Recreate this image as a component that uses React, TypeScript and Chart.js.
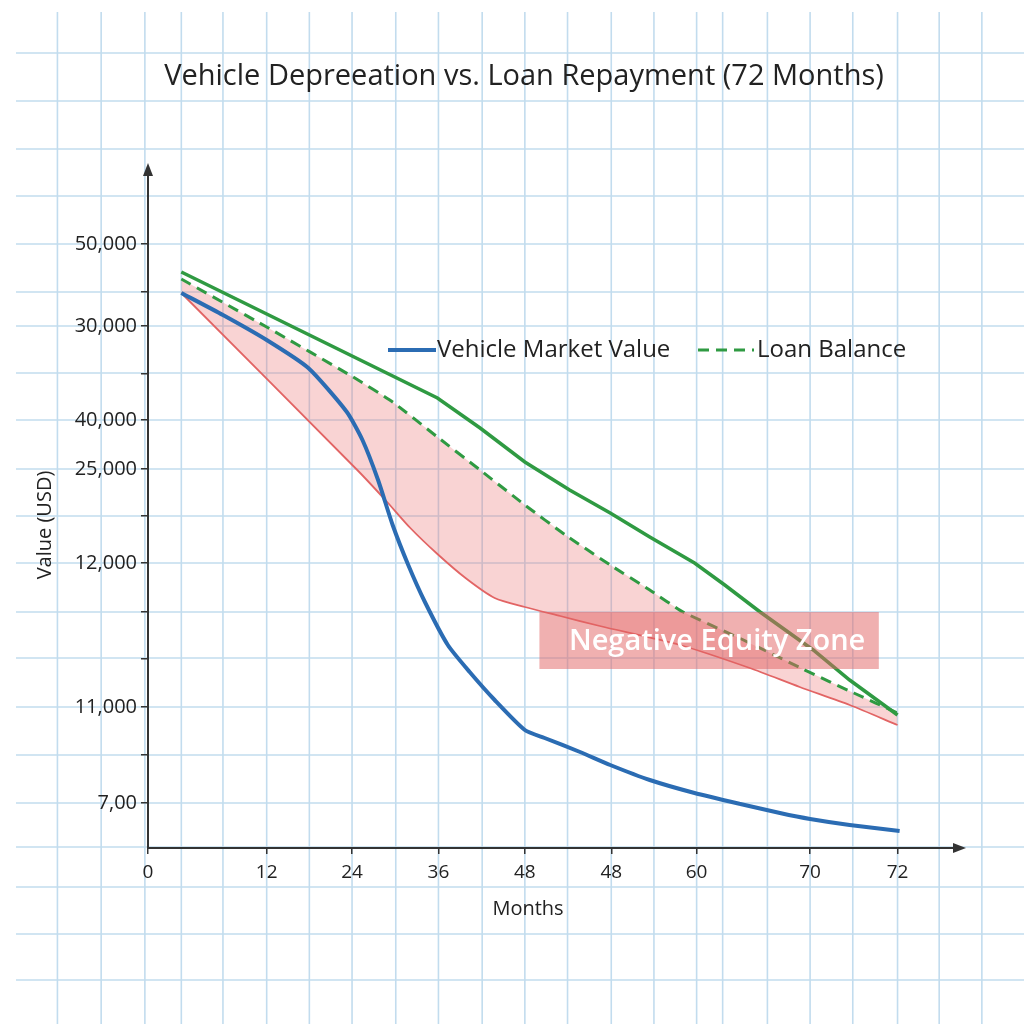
import React, { useEffect, useRef } from "react";
import { Chart, registerables } from "chart.js";

Chart.register(...registerables);

const chartTitle = "Vehicle Depreeation vs. Loan Repayment (72 Months)";
const xAxisTitle = "Months";
const yAxisTitle = "Value (USD)";
const zoneLabel = "Negative Equity Zone";

// Axis ticks (positions on the chart's own linear scales, and the printed labels)
const xTickPositions = [0, 11.4, 19.6, 27.9, 36.2, 44.5, 52.7, 63.6, 72];
const xTickLabels = ["0", "12", "24", "36", "48", "48", "60", "70", "72"];
const yTickPositions = [4.5, 9.3, 14.1, 18.9, 23.6, 28.5, 33.2, 37.9, 42.8, 47.4, 52.2, 55.6, 60.4];
const yTickLabels = ["7,00", "", "11,000", "", "", "12,000", "", "25,000", "40,000", "", "30,000", "", "50,000"];

// Vehicle market value (blue)
const vehicleMonths = [3.2, 7.2, 11.4, 15.4, 19.1, 20.6, 22.1, 23.5, 25.0, 26.6, 28.8, 30.9, 33.3, 36.2, 38.1, 41.5, 44.4, 48.2, 52.5, 56.9, 60.7, 63.6, 67.4, 72.2];
const vehicleValues = [55.5, 53.3, 50.8, 48.0, 43.6, 40.8, 36.8, 32.3, 28.3, 24.6, 20.3, 17.6, 14.8, 11.8, 11.0, 9.6, 8.3, 6.8, 5.5, 4.4, 3.5, 2.9, 2.3, 1.7];

// Upper green solid line
const upperMonths = [3.2, 27.8, 31.9, 36.2, 40.5, 44.4, 48.2, 52.5, 55.4, 58.8, 63.9, 67.4, 72.0];
const upperValues = [57.6, 45.0, 42.0, 38.6, 35.8, 33.5, 31.1, 28.5, 26.3, 23.6, 19.8, 16.8, 13.3];

// Loan balance (green dashed)
const loanMonths = [3.2, 11.4, 19.7, 23.5, 27.8, 31.9, 36.2, 40.1, 44.4, 48.2, 51.4, 57.2, 62.9, 67.8, 72.0];
const loanValues = [56.9, 52.1, 47.1, 44.6, 41.1, 37.8, 34.3, 31.3, 28.3, 25.8, 23.6, 20.8, 17.9, 15.5, 13.5];

// Lower red line (bottom edge of the negative equity area)
const lowerMonths = [3.2, 20.1, 22.8, 25.2, 27.8, 30.5, 33.3, 36.2, 39.6, 43.4, 51.1, 57.8, 62.6, 67.4, 72.0];
const lowerValues = [55.5, 37.8, 34.8, 32.0, 29.4, 27.0, 25.0, 24.1, 23.2, 22.2, 20.3, 18.0, 16.1, 14.3, 12.3];

// Negative equity label box extent (in scale units)
const zoneXRange = [37.6, 70.2];
const zoneYRange = [17.9, 23.6];

// Graph-paper background lines (in scale units, extended across the page)
const pageGridX = [-8.7, -4.5, -0.3, 3.2, 7.2, 11.4, 15.5, 19.6, 23.8, 27.9, 32.1, 36.2, 40.3, 44.5, 48.6, 52.7, 55.2, 59.5, 63.6, 67.7, 72.0, 76.0, 80.1];
const pageGridY = [79.5, 74.7, 69.9, 65.2, 60.4, 55.6, 52.2, 47.5, 42.8, 37.9, 33.2, 28.5, 23.6, 19.0, 14.1, 9.3, 4.5, 0.1, -3.9, -8.6, -13.2];

const legendIndices = [0, 2];

const FONT = "'Open Sans', 'DejaVu Sans', sans-serif";
const TEXT = "#222";

function toPoints(xs: number[], ys: number[]) {
  return xs.map((x, i) => ({ x, y: ys[i] }));
}

const decorPlugin = {
  id: "decor",
  beforeDraw(chart: any) {
    const { ctx, scales } = chart;
    const x = scales.x;
    const y = scales.y;
    ctx.save();
    ctx.fillStyle = "#ffffff";
    ctx.fillRect(0, 0, chart.width, chart.height);
    ctx.strokeStyle = "#c2dcee";
    ctx.lineWidth = 1.6;
    pageGridX.forEach((v) => {
      const px = x.getPixelForValue(v);
      ctx.beginPath();
      ctx.moveTo(px, 12);
      ctx.lineTo(px, chart.height);
      ctx.stroke();
    });
    pageGridY.forEach((v) => {
      const py = y.getPixelForValue(v);
      ctx.beginPath();
      ctx.moveTo(16, py);
      ctx.lineTo(chart.width, py);
      ctx.stroke();
    });
    ctx.restore();
  },
  afterDatasetsDraw(chart: any) {
    const { ctx, scales } = chart;
    const x = scales.x;
    const y = scales.y;
    const x0 = x.getPixelForValue(zoneXRange[0]);
    const x1 = x.getPixelForValue(zoneXRange[1]);
    const y0 = y.getPixelForValue(zoneYRange[1]);
    const y1 = y.getPixelForValue(zoneYRange[0]);
    ctx.save();
    ctx.fillStyle = "rgba(226, 98, 98, 0.5)";
    ctx.fillRect(x0, y0, x1 - x0, y1 - y0);
    ctx.fillStyle = "#ffffff";
    ctx.font = `600 29px ${FONT}`;
    ctx.textAlign = "center";
    ctx.textBaseline = "middle";
    ctx.fillText(zoneLabel, (x0 + x1) / 2 + 8, (y0 + y1) / 2 + 1);
    ctx.restore();
  },
  afterDraw(chart: any) {
    const { ctx, chartArea } = chart;
    ctx.save();
    // axis arrows
    ctx.fillStyle = "#333";
    ctx.beginPath();
    ctx.moveTo(chartArea.left, chartArea.top - 5);
    ctx.lineTo(chartArea.left - 5, chartArea.top + 8);
    ctx.lineTo(chartArea.left + 5, chartArea.top + 8);
    ctx.closePath();
    ctx.fill();
    ctx.beginPath();
    ctx.moveTo(chartArea.right + 6, chartArea.bottom);
    ctx.lineTo(chartArea.right - 7, chartArea.bottom - 5);
    ctx.lineTo(chartArea.right - 7, chartArea.bottom + 5);
    ctx.closePath();
    ctx.fill();

    // title
    ctx.fillStyle = TEXT;
    ctx.font = `29px ${FONT}`;
    ctx.textAlign = "center";
    ctx.textBaseline = "middle";
    ctx.fillText(chartTitle, 524, 77);

    // axis titles
    ctx.font = `20px ${FONT}`;
    ctx.fillText(xAxisTitle, 528, 909);
    ctx.save();
    ctx.translate(45, 525);
    ctx.rotate(-Math.PI / 2);
    ctx.fillText(yAxisTitle, 0, 0);
    ctx.restore();

    // legend
    const ds = chart.data.datasets;
    const legendPos = [
      { x1: 388, x2: 436, tx: 437 },
      { x1: 698, x2: 754, tx: 757 },
    ];
    const ly = 350;
    legendIndices.forEach((di, k) => {
      const d = ds[di];
      const p = legendPos[k];
      ctx.strokeStyle = d.borderColor;
      ctx.lineWidth = d.borderWidth;
      ctx.setLineDash(d.borderDash || []);
      ctx.beginPath();
      ctx.moveTo(p.x1, ly);
      ctx.lineTo(p.x2, ly);
      ctx.stroke();
      ctx.setLineDash([]);
      ctx.fillStyle = TEXT;
      ctx.font = `24px ${FONT}`;
      ctx.textAlign = "left";
      ctx.textBaseline = "middle";
      ctx.fillText(d.label, p.tx, ly);
    });
    ctx.restore();
  },
};

export default function App() {
  const ref = useRef<HTMLCanvasElement>(null);
  useEffect(() => {
    const canvas = ref.current;
    if (!canvas) return;
    Chart.defaults.font.family = FONT;
    const chart = new Chart(canvas, {
      type: "line",
      data: {
        datasets: [
          {
            label: "Vehicle Market Value",
            data: toPoints(vehicleMonths, vehicleValues),
            borderColor: "#2b6cb3",
            borderWidth: 4,
            tension: 0.2,
            pointRadius: 0,
            fill: false,
          },
          {
            label: "Loan Payoff",
            data: toPoints(upperMonths, upperValues),
            borderColor: "#2f9a42",
            borderWidth: 3.5,
            tension: 0,
            pointRadius: 0,
            fill: false,
          },
          {
            label: "Loan Balance",
            data: toPoints(loanMonths, loanValues),
            borderColor: "#2f9a42",
            borderWidth: 3,
            borderDash: [11, 7],
            tension: 0.15,
            pointRadius: 0,
            fill: false,
          },
          {
            label: "Negative Equity",
            data: toPoints(lowerMonths, lowerValues),
            borderColor: "#e26464",
            borderWidth: 1.8,
            tension: 0.25,
            pointRadius: 0,
            fill: { target: 2 },
            backgroundColor: "rgba(236, 110, 110, 0.3)",
          },
        ],
      } as any,
      options: {
        responsive: false,
        animation: false,
        devicePixelRatio: 1,
        layout: { padding: { left: 0, top: 168, right: 64, bottom: 0 } },
        plugins: {
          legend: { display: false },
          title: { display: false },
          tooltip: { enabled: false },
        },
        scales: {
          x: {
            type: "linear",
            min: 0,
            max: 78,
            afterBuildTicks: (s: any) => {
              s.ticks = xTickPositions.map((v) => ({ value: v }));
            },
            afterFit: (s: any) => {
              s.height = 176;
            },
            ticks: {
              autoSkip: false,
              maxRotation: 0,
              padding: 7,
              color: TEXT,
              font: { size: 19 },
              callback: (_v: any, i: number) => xTickLabels[i],
            },
            grid: { drawOnChartArea: false, drawTicks: true, tickLength: 6, color: "#333", lineWidth: 1.5 },
            border: { display: true, color: "#333", width: 2 },
          },
          y: {
            type: "linear",
            min: 0,
            max: 68,
            afterBuildTicks: (s: any) => {
              s.ticks = yTickPositions.map((v) => ({ value: v }));
            },
            afterFit: (s: any) => {
              s.width = 148;
            },
            ticks: {
              autoSkip: false,
              padding: 4,
              color: TEXT,
              font: { size: 20 },
              callback: (_v: any, i: number) => yTickLabels[i],
            },
            grid: { drawOnChartArea: false, drawTicks: true, tickLength: 7, color: "#333", lineWidth: 1.5 },
            border: { display: true, color: "#333", width: 2 },
          },
        },
      } as any,
      plugins: [decorPlugin],
    });
    return () => chart.destroy();
  }, []);
  return (
    <div style={{ position: "absolute", left: 0, top: 0, width: 1024, height: 1024 }}>
      <canvas ref={ref} width={1024} height={1024} style={{ display: "block", width: 1024, height: 1024 }} />
    </div>
  );
}
